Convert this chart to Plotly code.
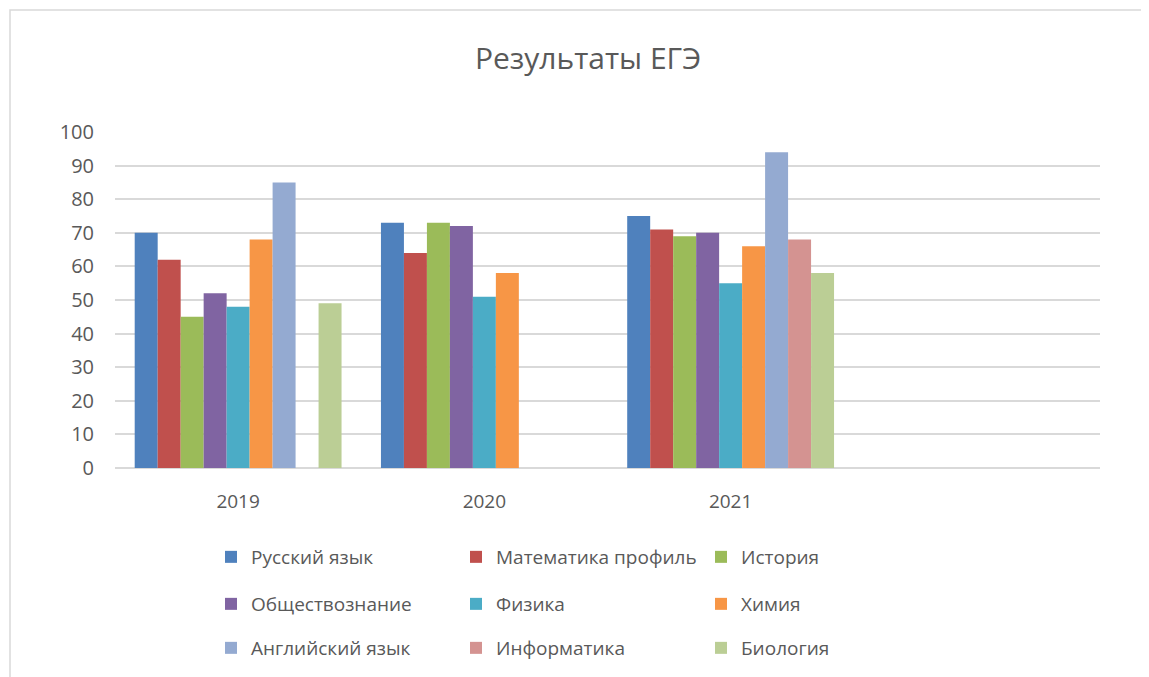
import plotly.graph_objects as go

years = ["2019", "2020", "2021", ""]
subjects = ["Русский язык", "Математика профиль", "История",
            "Обществознание", "Физика", "Химия",
            "Английский язык", "Информатика", "Биология"]

russian = [70, 73, 75, None]
math_prof = [62, 64, 71, None]
history = [45, 73, 69, None]
social = [52, 72, 70, None]
physics = [48, 51, 55, None]
chemistry = [68, 58, 66, None]
english = [85, None, 94, None]
informatics = [None, None, 68, None]
biology = [49, None, 58, None]

series = [russian, math_prof, history, social, physics, chemistry,
          english, informatics, biology]
colors = ["#4F81BD", "#C0504D", "#9BBB59", "#8064A2", "#4BACC6",
          "#F79646", "#94AAD1", "#D49391", "#BBCE95"]
legend_ids = ["legend", "legend", "legend",
              "legend2", "legend2", "legend2",
              "legend3", "legend3", "legend3"]

# page has an 8px body margin; layout is expressed in figure pixels
OFF = 8
W, H = 1149, 677
ML = 115 - OFF
MT = 132 - OFF
PLOT_RIGHT = 1100 - OFF
PLOT_BOTTOM = 468 - OFF
MR = W - PLOT_RIGHT
MB = H - PLOT_BOTTOM
PW = W - ML - MR
PH = H - MT - MB

fig = go.Figure()
for name, vals, col, lg in zip(subjects, series, colors, legend_ids):
    fig.add_trace(go.Bar(
        name=name, x=years, y=vals, marker_color=col,
        marker_line_width=0, legend=lg,
    ))

txt = "#595959"
font_family = "Open Sans, Noto Sans, sans-serif"


def legend_cfg(row_y_px):
    return dict(
        orientation="h", x=(211 - OFF - ML) / PW, xanchor="left",
        y=(PLOT_BOTTOM - (row_y_px - OFF)) / PH, yanchor="middle",
        entrywidth=200, entrywidthmode="pixels",
        font=dict(size=19, color=txt, family=font_family),
        bgcolor="rgba(0,0,0,0)", traceorder="normal",
    )


fig.update_layout(
    width=W, height=H,
    margin=dict(l=ML, r=MR, t=MT, b=MB),
    paper_bgcolor="white", plot_bgcolor="white",
    font=dict(family=font_family, color=txt),
    title=dict(text="Результаты ЕГЭ", x=(588 - OFF) / W, xanchor="center",
               y=1 - (58 - OFF) / H, yanchor="middle",
               font=dict(size=30, color=txt, family=font_family)),
    barmode="group", bargap=0.16, bargroupgap=0,
    xaxis=dict(type="category", categoryorder="array", categoryarray=years,
               range=[-0.5, 3.5], showgrid=False, zeroline=False,
               showline=False, ticks="", ticklabelstandoff=20,
               tickfont=dict(size=19, color=txt)),
    yaxis=dict(range=[0, 100], dtick=10, showgrid=True,
               gridcolor="#D9D9D9", gridwidth=1.5, zeroline=True,
               zerolinecolor="#D9D9D9", zerolinewidth=1.5,
               showline=False, ticks="", ticklabelstandoff=20,
               tickfont=dict(size=20, color=txt)),
    legend=legend_cfg(557),
    legend2=legend_cfg(604),
    legend3=legend_cfg(648),
    shapes=[dict(type="rect", xref="paper", yref="paper",
                 x0=(10 - OFF - ML) / PW, x1=(W + 5 - ML) / PW,
                 y0=(PLOT_BOTTOM - (H + 5)) / PH,
                 y1=(PLOT_BOTTOM - (10 - OFF)) / PH,
                 line=dict(color="#D9D9D9", width=1.5),
                 fillcolor="rgba(0,0,0,0)", layer="below")],
)

fig.write_html("out.html")
